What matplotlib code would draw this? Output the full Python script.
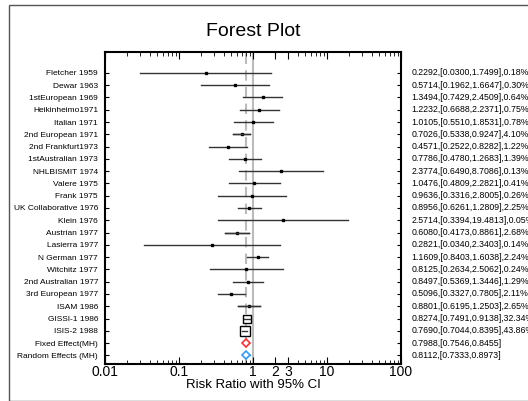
import matplotlib.pyplot as plt
from matplotlib.patches import Rectangle
import numpy as np

plt.rcParams['font.family'] = ['Liberation Sans', 'DejaVu Sans']

studies = ["Fletcher 1959", "Dewar 1963", "1stEuropean 1969", "Heikinheimo1971",
           "Italian 1971", "2nd European 1971", "2nd Frankfurt1973", "1stAustralian 1973",
           "NHLBISMIT 1974", "Valere 1975", "Frank 1975", "UK Collaborative 1976",
           "Klein 1976", "Austrian 1977", "Lasierra 1977", "N German 1977",
           "Witchitz 1977", "2nd Australian 1977", "3rd European 1977", "ISAM 1986",
           "GISSI-1 1986", "ISIS-2 1988"]
rr = [0.2292, 0.5714, 1.3494, 1.2232, 1.0105, 0.7026, 0.4571, 0.7786, 2.3774, 1.0476,
      0.9636, 0.8956, 2.5714, 0.6080, 0.2821, 1.1609, 0.8125, 0.8497, 0.5096, 0.8801,
      0.8274, 0.7690]
lo = [0.0300, 0.1962, 0.7429, 0.6688, 0.5510, 0.5338, 0.2522, 0.4780, 0.6490, 0.4809,
      0.3316, 0.6261, 0.3394, 0.4173, 0.0340, 0.8403, 0.2634, 0.5369, 0.3327, 0.6195,
      0.7491, 0.7044]
hi = [1.7499, 1.6647, 2.4509, 2.2371, 1.8531, 0.9247, 0.8282, 1.2683, 8.7086, 2.2821,
      2.8005, 1.2809, 19.4813, 0.8861, 2.3403, 1.6038, 2.5062, 1.3446, 0.7805, 1.2503,
      0.9138, 0.8395]
weight = [0.18, 0.30, 0.64, 0.75, 0.78, 4.10, 1.22, 1.39, 0.13, 0.41, 0.26, 2.25, 0.05,
          2.68, 0.14, 2.24, 0.24, 1.29, 2.11, 2.65, 32.34, 43.86]

pooled = ["Fixed Effect(MH)", "Random Effects (MH)"]
pooled_rr = [0.7988, 0.8112]
pooled_lo = [0.7546, 0.7333]
pooled_hi = [0.8455, 0.8973]
pooled_col = ["#ff3030", "#3399ff"]

fig = plt.figure(figsize=(5.28, 4.01), dpi=100)
fig.patches.append(Rectangle((9/528, 0), 1, 1 - 5/401, transform=fig.transFigure,
                             fill=False, edgecolor="#555555", lw=1))
ax = fig.add_axes([105/528, 1 - 364/401, 296/528, 312/401])

n = len(studies)
ys = np.arange(n + 2)

ax.axvline(1, color="#bbbbbb", lw=1.5, zorder=0)
ax.axvline(pooled_rr[0], color="#bbbbbb", lw=1.5, ls=(0, (5, 3)), zorder=0)

for i in range(n):
    ax.plot([lo[i], hi[i]], [i, i], color="#333333", lw=1)
    side = max(2.0, 1.4 * np.sqrt(weight[i])) * 0.72
    if weight[i] > 2.5:
        ax.plot(rr[i], i, marker="s", ms=side, mfc="white", mec="black", mew=1)
        ax.plot([lo[i], hi[i]], [i, i], color="#333333", lw=1)
    else:
        ax.plot(rr[i], i, marker="s", ms=side, color="black")

for j in range(2):
    y = n + j
    ax.plot([pooled_lo[j], pooled_hi[j]], [y, y], color=pooled_col[j], lw=1)
    ax.plot(pooled_rr[j], y, marker="D", ms=4.5, mfc="white", mec=pooled_col[j], mew=1.2)

ax.set_xscale("log")
ax.set_xlim(0.01, 100)
ax.set_ylim(n + 1.7, -1.7)
ax.set_yticks(ys)
ax.set_yticklabels(studies + pooled, fontsize=6)
ax.set_xticks([0.01, 0.1, 1, 2, 3, 10, 100])
ax.set_xticklabels(["0.01", "0.1", "1", "2", "3", "10", "100"], fontsize=10)
ax.tick_params(axis="x", which="both", direction="in", top=True, pad=1)
ax.tick_params(axis="x", which="major", length=5)
ax.tick_params(axis="x", which="minor", length=3)
ax.tick_params(axis="y", direction="in", right=True, length=3, pad=5)
for s in ax.spines.values():
    s.set_linewidth(1.5)

labels = ["%.4f,[%.4f,%.4f],%.2f%%" % (rr[i], lo[i], hi[i], weight[i]) for i in range(n)]
labels += ["%.4f,[%.4f,%.4f]" % (pooled_rr[j], pooled_lo[j], pooled_hi[j]) for j in range(2)]
for y, t in zip(ys, labels):
    ax.text(1.035, y, t, transform=ax.get_yaxis_transform(), fontsize=6.3,
            va="center", ha="left", clip_on=False)

fig.text(253/528, 1 - 385/401, "Risk Ratio with 95% CI", ha="center", va="center",
         fontsize=9.5)
fig.text(253/528, 1 - 31/401, "Forest Plot", ha="center", va="center", fontsize=14)

fig.savefig("out.png", dpi=100)
